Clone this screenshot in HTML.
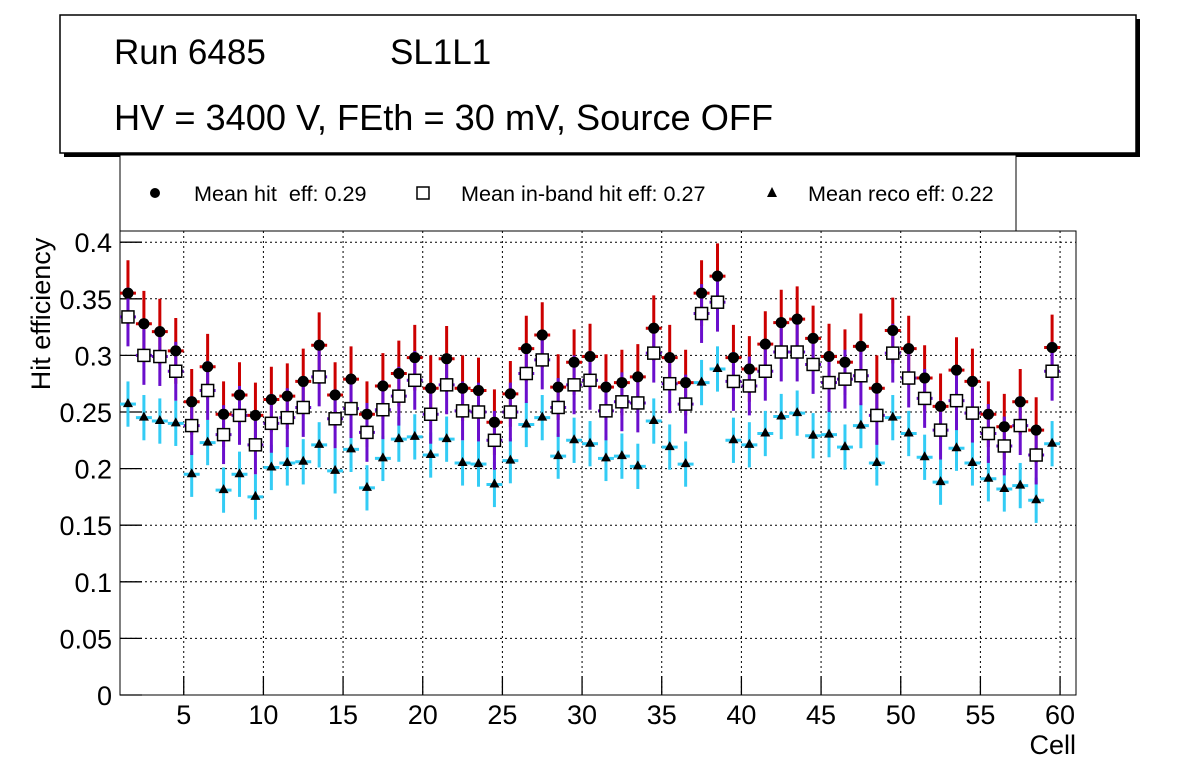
<!DOCTYPE html>
<html><head><meta charset="utf-8"><style>
body{margin:0;background:#fff;font-family:"Liberation Sans",sans-serif}
</style></head><body>
<svg id="c" width="1196" height="772" xmlns="http://www.w3.org/2000/svg" font-family="Liberation Sans, sans-serif">
<rect x="64" y="19" width="1076" height="138" fill="#000"/>
<rect x="60" y="15" width="1076" height="138" fill="#fff" stroke="#000" stroke-width="1.5"/>
<text x="114" y="64" font-size="35">Run 6485</text>
<text x="390" y="64" font-size="35">SL1L1</text>
<text x="114" y="130" font-size="36.2">HV = 3400 V, FEth = 30 mV, Source OFF</text>
<rect x="120" y="155" width="896" height="76" fill="#fff" stroke="#000"/>
<g><circle cx="155" cy="193" r="5" fill="#000"/><text x="194" y="201" font-size="21.6" xml:space="preserve">Mean hit  eff: 0.29</text></g>
<g><rect x="417" y="187" width="12" height="12" fill="#fff" stroke="#000" stroke-width="1.5"/><text x="461" y="201" font-size="21.6">Mean in-band hit eff: 0.27</text></g>
<g><polygon points="772,187 777,197 767,197" fill="#000"/><text x="808" y="201" font-size="21.6">Mean reco eff: 0.22</text></g>
<rect x="120" y="231" width="956" height="464" fill="none" stroke="#000"/>
<g id="grid"></g><g id="axes"></g><g id="marks"></g>
<text transform="translate(50,314) rotate(-90)" text-anchor="middle" font-size="27">Hit efficiency</text>
<text x="1076" y="754" text-anchor="end" font-size="27">Cell</text>
</svg>
<script>
const hitEff=[0.355,0.328,0.321,0.304,0.259,0.290,0.248,0.265,0.247,0.261,0.264,0.277,0.309,0.265,0.279,0.248,0.273,0.284,0.298,0.271,0.297,0.271,0.269,0.241,0.266,0.306,0.318,0.272,0.294,0.299,0.272,0.276,0.281,0.324,0.298,0.276,0.355,0.370,0.298,0.288,0.310,0.329,0.332,0.315,0.299,0.294,0.308,0.271,0.322,0.306,0.280,0.255,0.287,0.277,0.248,0.237,0.259,0.234,0.307];
const inbandEff=[0.334,0.300,0.299,0.286,0.238,0.269,0.230,0.247,0.221,0.240,0.245,0.254,0.281,0.244,0.253,0.232,0.252,0.264,0.278,0.248,0.274,0.251,0.250,0.225,0.250,0.284,0.296,0.254,0.274,0.278,0.251,0.259,0.258,0.302,0.275,0.257,0.337,0.347,0.277,0.273,0.286,0.303,0.303,0.292,0.276,0.279,0.282,0.247,0.302,0.280,0.262,0.234,0.260,0.249,0.231,0.220,0.238,0.212,0.286];
const recoEff=[0.257,0.245,0.242,0.240,0.195,0.223,0.181,0.195,0.175,0.201,0.205,0.206,0.221,0.198,0.217,0.183,0.209,0.226,0.228,0.212,0.226,0.205,0.204,0.186,0.207,0.239,0.245,0.211,0.225,0.222,0.209,0.211,0.202,0.242,0.219,0.204,0.276,0.288,0.225,0.221,0.231,0.246,0.249,0.229,0.230,0.219,0.238,0.205,0.245,0.231,0.210,0.188,0.218,0.205,0.191,0.182,0.185,0.172,0.222];
const hitErr=0.029, inbandErr=0.026, recoErr=0.02;
const xTicks=[5,10,15,20,25,30,35,40,45,50,55,60];
const yTicks=[0,0.05,0.1,0.15,0.2,0.25,0.3,0.35,0.4];
const yTickLabels=["0","0.05","0.1","0.15","0.2","0.25","0.3","0.35","0.4"];
const X=v=>120+(v-1)*956/60;
const Y=v=>695-v*1132;
const NS="http://www.w3.org/2000/svg";
function mk(parent,tag,attrs){const e=document.createElementNS(NS,tag);for(const k in attrs)e.setAttribute(k,attrs[k]);parent.appendChild(e);return e;}
const grid=document.getElementById('grid'),axes=document.getElementById('axes'),marks=document.getElementById('marks');
xTicks.forEach(t=>{
  const g=mk(grid,'line',{x1:X(t),x2:X(t),y1:231,y2:695,stroke:'#000','stroke-dasharray':'2,3'});
  
  
  mk(axes,'line',{x1:X(t),x2:X(t),y1:695,y2:676,stroke:'#000','stroke-width':1.3});
  const l=mk(axes,'text',{x:X(t),y:724,'text-anchor':'middle','font-size':27});
  l.textContent=t;
  
  
});
yTicks.forEach((t,i)=>{
  const g=mk(grid,'line',{x1:120,x2:1076,y1:Y(t),y2:Y(t),stroke:'#000','stroke-dasharray':'2,3'});
  
  
  mk(axes,'line',{x1:120,x2:142,y1:Y(t),y2:Y(t),stroke:'#000','stroke-width':1.3});
  const l=mk(axes,'text',{x:112,y:Y(t)+10,'text-anchor':'end','font-size':27});
  l.textContent=yTickLabels[i];
  
  
});
function series(vals,err,col,shape,name){
  const g=mk(marks,'g',{});
  
  
  vals.forEach((v,i)=>{
    const c=i+1.5,x=X(c),y=Y(v);
    mk(g,'line',{x1:x,x2:x,y1:Y(v+err),y2:Y(v-err),stroke:col,'stroke-width':3});
    mk(g,'line',{x1:X(c-0.5),x2:X(c+0.5),y1:y,y2:y,stroke:col,'stroke-width':3});
    let m;
    if(shape==='c') m=mk(g,'circle',{cx:x,cy:y,r:5.5,fill:'#000'});
    else if(shape==='s') m=mk(g,'rect',{x:x-6,y:y-6,width:12,height:12,fill:'#fff',stroke:'#000','stroke-width':1.5});
    else m=mk(g,'polygon',{points:`${x},${y-6} ${x+5},${y+3} ${x-5},${y+3}`,fill:'#000'});
    
    
  });
}
series(recoEff,recoErr,'#33ccf5','t','reco-eff');
series(hitEff,hitErr,'#cc0000','c','hit-eff');
series(inbandEff,inbandErr,'#6a0ecc','s','inband-eff');
hitEff.forEach((v,i)=>{const m=mk(marks,'circle',{cx:X(i+1.5),cy:Y(v),r:5.5,fill:'#000'});

});
</script>
</body></html>
